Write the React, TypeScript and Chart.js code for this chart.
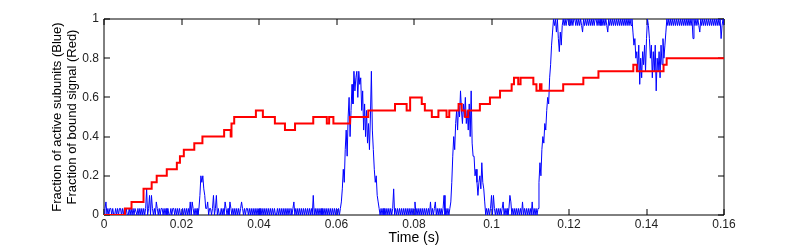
import React, { useEffect, useRef } from "react";
import { Chart, registerables } from "chart.js";

Chart.register(...registerables);

// ---- data ----
const SUBUNITS = 30;
const blueStep = 0.00025; // seconds between blue samples
// number of active subunits (out of 30), one sample every 0.25 ms, 0.01 s per row
const blueCounts = [
  0,1,2,0,1,0,1,1,0,1, 0,0,1,0,1,0,1,1,0,1, 0,1,0,1,0,0,1,0,1,0, 1,0,1,1,0,1,0,1,0,1,
  0,1,0,1,4,0,1,3,0,3, 1,0,1,0,2,1,0,1,0,1, 1,0,1,0,1,0,1,0,0,1, 0,1,1,0,1,0,1,0,1,0,
  0,1,0,1,0,1,0,1,0,2, 0,2,1,0,1,0,1,0,1,3, 6,5,6,4,3,1,1,2,0,1, 1,0,1,3,0,1,3,0,1,0,
  0,1,0,1,0,2,1,0,1,0, 2,1,0,1,0,1,0,1,0,1, 0,1,2,1,0,1,0,1,1,0, 1,0,1,0,1,0,1,0,1,0,
  1,0,1,0,1,0,1,0,1,0, 1,0,1,0,1,0,1,0,0,1, 0,1,0,1,0,1,0,1,0,1, 0,1,0,1,0,1,2,0,1,0,
  1,0,1,0,1,0,1,0,1,0, 1,0,1,0,1,0,3,0,1,0, 1,0,1,0,1,0,1,0,1,0, 1,0,1,0,1,0,1,0,1,0,
  1,0,1,0,1,2,4,7,5,10, 13,9,15,18,12,16,20,17,22,19, 21,22,18,22,20,21,16,19,13,17, 12,16,11,14,10,15,22,13,10,7,
  5,6,3,2,1,0,1,0,1,0, 1,0,1,0,1,0,1,0,1,4, 0,1,0,1,0,1,0,1,0,1, 0,1,0,1,0,1,0,1,0,1,
  0,2,0,1,0,1,0,1,0,1, 0,1,0,1,0,1,0,2,0,1, 0,1,2,0,1,0,1,0,1,0, 1,3,0,1,0,1,0,1,2,5,
  9,12,10,14,16,13,17,15,19,16, 14,17,15,18,14,16,13,17,12,19, 11,9,9,6,7,5,3,5,6,4, 8,5,4,2,0,1,0,1,0,1,
  3,0,3,1,0,1,0,1,0,1, 0,1,2,0,1,0,1,0,1,3, 2,0,1,0,1,0,1,0,1,0, 1,0,2,0,1,0,1,0,1,0,
  1,0,2,0,1,0,1,0,1,5, 8,6,10,12,11,14,13,16,18,17, 21,23,26,28,30,29,30,28,30,27, 25,28,26,29,30,29,30,29,30,30,
  29,30,29,30,29,30,30,29,30,29, 30,29,30,29,28,30,29,30,29,30, 29,30,29,30,29,30,29,30,30,29, 30,29,30,29,30,29,30,29,30,29,
  28,30,29,30,29,30,29,30,29,30, 29,30,29,30,29,30,29,30,29,30, 29,30,29,30,29,30,28,26,27,24, 25,22,26,20,24,21,25,23,26,22,
  27,30,29,27,24,26,21,25,22,26, 19,24,22,25,21,26,23,27,24,26, 28,30,29,30,29,30,29,30,29,30, 29,30,29,30,29,30,29,30,29,30,
  29,30,29,30,29,30,29,30,27,30, 29,30,29,30,29,28,30,29,30,29, 30,29,30,29,30,29,30,29,30,29, 30,29,30,29,30,29,30,27,29,30,29,
];

// bound signal: step changes (time in s, count out of 30 from that time on)
const redTimes = [
  0, 0.0054, 0.0071, 0.0102, 0.0123, 0.0136, 0.0162, 0.0188, 0.0196, 0.0206,
  0.0233, 0.0254, 0.031, 0.0327, 0.0329, 0.0336, 0.0392, 0.041, 0.0441, 0.0467,
  0.0493, 0.054, 0.0575, 0.0581, 0.0592, 0.0635, 0.0682, 0.0751, 0.0781, 0.079,
  0.082, 0.0828, 0.0846, 0.0863, 0.0884, 0.0891, 0.0915, 0.0923, 0.0932, 0.094,
  0.097, 0.0996, 0.1022, 0.1052, 0.1058, 0.1069, 0.1075, 0.1108, 0.1116, 0.1125,
  0.1129, 0.1185, 0.1237, 0.1276, 0.1366, 0.1375, 0.1444, 0.1452, 0.16,
];
const redCounts = [
  0, 1, 2, 4, 5, 6, 7, 8, 9, 10,
  11, 12, 13, 12, 14, 15, 16, 15, 14, 13,
  14, 15, 14, 15, 14, 15, 16, 17, 16, 18,
  17, 16, 15, 16, 15, 16, 17, 16, 15, 16,
  17, 18, 19, 20, 21, 20, 21, 20, 19, 20,
  19, 20, 21, 22, 23, 22, 23, 24, 24,
];

const xTicks = [0, 0.02, 0.04, 0.06, 0.08, 0.1, 0.12, 0.14, 0.16];
const yTicks = [0, 0.2, 0.4, 0.6, 0.8, 1];
const xTitle = "Time (s)";
const yTitle = ["Fraction of active subunits (Blue)", "Fraction of bound signal (Red)"];

const FONT = 'Arial, "Liberation Sans", Helvetica, sans-serif';

const boxPlugin = {
  id: "matlabBox",
  beforeDatasetsDraw(chart: any) {
    const { ctx, chartArea: a, scales } = chart;
    const tl = 6;
    ctx.save();
    ctx.strokeStyle = "#000";
    ctx.lineWidth = 1;
    ctx.beginPath();
    ctx.rect(a.left, a.top, a.right - a.left, a.bottom - a.top);
    for (const v of xTicks) {
      const px = Math.round(scales.x.getPixelForValue(v));
      ctx.moveTo(px, a.bottom);
      ctx.lineTo(px, a.bottom - tl);
      ctx.moveTo(px, a.top);
      ctx.lineTo(px, a.top + tl);
    }
    for (const v of yTicks) {
      const py = Math.round(scales.y.getPixelForValue(v));
      ctx.moveTo(a.left, py);
      ctx.lineTo(a.left + tl, py);
      ctx.moveTo(a.right, py);
      ctx.lineTo(a.right - tl, py);
    }
    ctx.stroke();
    ctx.restore();
  },
};

const fmt = (v: number) => String(Number(v.toFixed(2)));

export default function App() {
  const ref = useRef<HTMLCanvasElement | null>(null);

  useEffect(() => {
    document.body.style.margin = "0";
    const canvas = ref.current;
    if (!canvas) return;
    const blueData = blueCounts.map((c, i) => ({ x: i * blueStep, y: c / SUBUNITS }));
    const redData = redTimes.map((t, i) => ({ x: t, y: redCounts[i] / SUBUNITS }));

    const chart = new Chart(canvas, {
      type: "line",
      data: {
        datasets: [
          {
            label: "Bound signal",
            data: redData,
            borderColor: "#ff0000",
            borderWidth: 2,
            stepped: true,
            pointRadius: 0,
            fill: false,
          },
          {
            label: "Active subunits",
            data: blueData,
            borderColor: "#0000ff",
            borderWidth: 1,
            pointRadius: 0,
            tension: 0,
            fill: false,
          },
        ],
      },
      options: {
        responsive: false,
        animation: false,
        devicePixelRatio: 1,
        layout: { padding: { top: 19, right: 76, bottom: 0, left: 0 } },
        plugins: { legend: { display: false }, tooltip: { enabled: false } },
        scales: {
          x: {
            type: "linear",
            min: 0,
            max: 0.16,
            grid: { display: false, drawTicks: false },
            border: { display: false },
            afterBuildTicks: (s: any) => {
              s.ticks = xTicks.map((v) => ({ value: v }));
            },
            afterFit: (s: any) => {
              s.height = 33;
            },
            ticks: {
              autoSkip: false,
              maxRotation: 0,
              padding: 2,
              color: "#222",
              font: { family: FONT, size: 12 },
              callback: (v: any) => fmt(Number(v)),
            },
            title: {
              display: true,
              text: xTitle,
              color: "#000",
              font: { family: FONT, size: 14 },
              padding: { top: 0, bottom: 1 },
            },
          },
          y: {
            type: "linear",
            min: 0,
            max: 1,
            grid: { display: false, drawTicks: false },
            border: { display: false },
            afterBuildTicks: (s: any) => {
              s.ticks = yTicks.map((v) => ({ value: v }));
            },
            afterFit: (s: any) => {
              s.width = 104;
            },
            ticks: {
              padding: 5,
              color: "#222",
              font: { family: FONT, size: 12 },
              callback: (v: any) => fmt(Number(v)),
            },
            title: {
              display: true,
              text: yTitle,
              color: "#000",
              font: { family: FONT, size: 13, lineHeight: 1.15 },
              padding: { top: 50, bottom: 0 },
            },
          },
        },
      },
      plugins: [boxPlugin],
    });
    return () => chart.destroy();
  }, []);

  return (
    <div style={{ position: "absolute", left: 0, top: 0, width: 800, height: 248, background: "#fff" }}>
      <canvas ref={ref} width={800} height={248} style={{ width: 800, height: 248, display: "block" }} />
    </div>
  );
}
